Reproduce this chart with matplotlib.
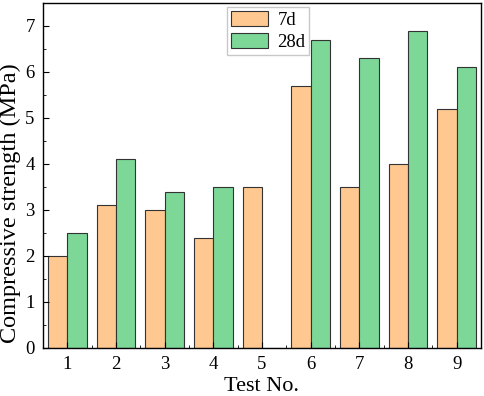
import matplotlib
matplotlib.use("Agg")
import matplotlib.pyplot as plt
import numpy as np
from matplotlib.ticker import MultipleLocator

plt.rcParams['font.family'] = ['Liberation Serif', 'DejaVu Serif']

tests = [1, 2, 3, 4, 5, 6, 7, 8, 9]
strength_7d = [2.0, 3.1, 3.0, 2.4, 3.5, 5.7, 3.5, 4.0, 5.2]
strength_28d = [2.5, 4.1, 3.4, 3.5, 0.0, 6.7, 6.3, 6.9, 6.1]

fig = plt.figure(figsize=(4.84, 3.96), dpi=100)
ax = fig.add_axes([43/484, 1 - 348/396, (481-43)/484, (348-3)/396])

x = np.array(tests)
w = 0.4
ax.bar(x - w/2, strength_7d, width=w, color='#FFC891', edgecolor='#333333', linewidth=0.8, label='7d')
ax.bar(x + w/2, strength_28d, width=w, color='#7DD898', edgecolor='#333333', linewidth=0.8, label='28d')

ax.set_xlim(0.5, 9.5)
ax.set_ylim(0, 7.5)
ax.set_xticks(tests)
ax.set_yticks(range(0, 8))
ax.xaxis.set_minor_locator(MultipleLocator(0.5))
ax.yaxis.set_minor_locator(MultipleLocator(0.5))
ax.tick_params(which='both', direction='in', labelsize=13.5)
ax.tick_params(which='major', length=4, pad=6)
ax.tick_params(which='minor', length=2)
for s in ax.spines.values():
    s.set_linewidth(1.0)

ax.set_xlabel('Test No.', fontsize=16)
ax.xaxis.set_label_coords(0.5, -0.085)
ax.set_ylabel('Compressive strength (MPa)', fontsize=17.5)
ax.yaxis.set_label_coords(-0.05, 0.42)

leg = ax.legend(loc='upper left', bbox_to_anchor=((227-43)/438, 1 - 4/345), fontsize=13.5,
                frameon=True, fancybox=False, edgecolor='#BBBBBB',
                handlelength=2.0, handleheight=0.9, borderpad=0.2, labelspacing=0.2,
                handletextpad=0.5, borderaxespad=0.0)

fig.savefig('out.png', dpi=100)
